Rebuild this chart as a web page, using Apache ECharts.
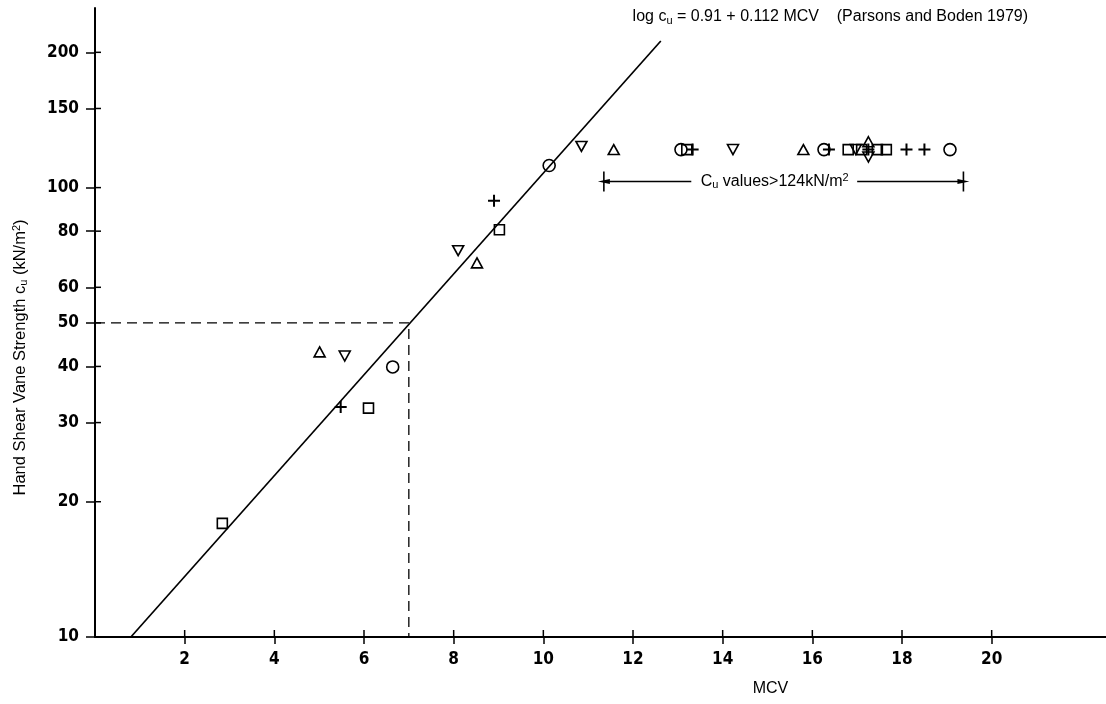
<!DOCTYPE html>
<html>
<head>
<meta charset="utf-8">
<script src="https://cdn.jsdelivr.net/npm/echarts@6/dist/echarts.min.js"></script>
<style>
html,body{margin:0;padding:0;background:#fff;}
#chart{width:1106px;height:704px;}
</style>
</head>
<body>
<div id="chart"></div>
<script>
// ---- data (MCV, cu in kN/m2) ----
const xTicks = [2, 4, 6, 8, 10, 12, 14, 16, 18, 20];
const yTicks = [10, 20, 30, 40, 50, 60, 80, 100, 150, 200];

const squares   = [[2.84, 17.9], [6.1, 32.3], [9.02, 80.6], [13.2, 121.5], [16.8, 121.5], [17.1, 121.5], [17.45, 121.5], [17.65, 121.5]];
const circles   = [[6.64, 39.9], [10.13, 112], [13.07, 121.5], [16.26, 121.5], [19.07, 121.5]];
const triUp     = [[5.01, 43.1], [8.52, 68], [11.57, 121.5], [15.8, 121.5], [17.25, 126.5]];
const triDown   = [[5.57, 42.2], [8.1, 72.4], [10.85, 123.5], [14.23, 121.5], [16.97, 121.5], [17.25, 117]];
const pluses    = [[5.48, 32.5], [8.9, 93.5], [13.33, 121.5], [16.37, 121.5], [17.25, 121.5], [18.1, 121.5], [18.5, 121.5]];

const fitLine   = [[0.8, 10], [12.62, 212]];
const guideLine = [[0, 50], [7, 50], [7, 10]];

// annotation: range of MCV with cu > 124
const rangeMCV  = [11.35, 19.37];
const gapMCV    = [13.3, 17.0];
const rangeCu   = 103.2;
const barCu     = [98, 108.6];
const rangeLabelMCV = 15.16;

// ---- helpers ----
const X_MIN = 0, X_MAX = 22.55, Y_MIN = 10, Y_MAX = 251;
const L = v => Math.log10(v);
const tr = arr => arr.map(p => [p[0], L(p[1])]);

const tickFont = {fontFamily: "'DejaVu Sans Condensed','Liberation Sans Narrow',sans-serif", fontWeight: 'bold', fontSize: 17, color: '#000'};
const textFont = "'Liberation Sans', Arial, sans-serif";

const hollow = {color: 'rgba(0,0,0,0)', borderColor: '#000', borderWidth: 1.6, opacity: 1};
const plusPath = 'path://M5,0H7V5H12V7H7V12H5V7H0V5H5Z';

// inner half of the crossing tick marks, placed through the axis scales
function innerTick(dir) {
  return function (params, api) {
    const p = api.coord([api.value(0), api.value(1)]);
    const end = dir === 'x' ? [p[0], p[1] - 7] : [p[0] + 6, p[1]];
    return {type: 'line', shape: {x1: p[0], y1: p[1], x2: end[0], y2: end[1]},
            style: {stroke: '#000', lineWidth: 1.5}};
  };
}

const chart = echarts.init(document.getElementById('chart'), null, {renderer: 'canvas'});

const option = {
  animation: false,
  backgroundColor: '#fff',
  grid: {left: 95, right: 0, top: 8, bottom: 67, outerBoundsMode: 'none'},
  xAxis: {
    type: 'value', min: X_MIN, max: X_MAX, position: 'bottom',
    name: 'MCV', nameLocation: 'middle', nameGap: 44,
    nameTextStyle: {fontFamily: textFont, fontSize: 16, color: '#000', padding: [0, 0, 0, 340]},
    axisLine: {show: true, onZero: false, lineStyle: {color: '#000', width: 2}},
    axisTick: {show: true, customValues: xTicks, length: 7, lineStyle: {color: '#000', width: 1.5}},
    axisLabel: Object.assign({customValues: xTicks, margin: 14}, tickFont),
    splitLine: {show: false}
  },
  yAxis: {
    type: 'value', min: L(Y_MIN), max: L(Y_MAX), position: 'left',
    name: 'Hand Shear Vane Strength c{sub|u} (kN/m{sup|2})',
    nameLocation: 'middle', nameGap: 66,
    nameTextStyle: {
      fontFamily: textFont, fontSize: 16.5, color: '#000', padding: [0, 70, 0, 0],
      rich: {sub: {fontFamily: textFont, fontSize: 11, color: '#000', padding: [7, 0, 0, 0]},
             sup: {fontFamily: textFont, fontSize: 11, color: '#000', padding: [0, 0, 7, 0]}}
    },
    axisLine: {show: true, onZero: false, lineStyle: {color: '#000', width: 2}},
    axisTick: {show: true, customValues: yTicks.map(L), length: 9, lineStyle: {color: '#000', width: 1.5}},
    axisLabel: Object.assign({customValues: yTicks.map(L), margin: 16,
      formatter: v => String(Math.round(Math.pow(10, v)))}, tickFont),
    splitLine: {show: false}
  },
  graphic: [{
    type: 'text', right: 78, top: 9, z: 100,
    style: {
      text: 'log c{sub|u} = 0.91 + 0.112 MCV    (Parsons and Boden 1979)',
      font: '16px ' + textFont, fill: '#000',
      rich: {sub: {font: '11px ' + textFont, fill: '#000', padding: [8, 0, 0, 0]}}
    }
  }],
  series: [
    {type: 'custom', data: xTicks.map(v => [v, L(Y_MIN)]), renderItem: innerTick('x'), clip: false, silent: true, z: 3},
    {type: 'custom', data: yTicks.map(v => [X_MIN, L(v)]), renderItem: innerTick('y'), clip: false, silent: true, z: 3},
    {type: 'line', data: tr(fitLine), showSymbol: false, symbol: 'none',
     lineStyle: {color: '#000', width: 1.7}, z: 2, silent: true},
    {type: 'line', data: tr(guideLine), showSymbol: false, symbol: 'none',
     lineStyle: {color: '#000', width: 1.3, type: [10, 6]}, z: 2, silent: true},
    // range annotation
    {type: 'line', data: [[rangeMCV[0], L(barCu[0])], [rangeMCV[0], L(barCu[1])]], symbol: 'none',
     lineStyle: {color: '#000', width: 1.6}, silent: true},
    {type: 'line', data: [[rangeMCV[1], L(barCu[0])], [rangeMCV[1], L(barCu[1])]], symbol: 'none',
     lineStyle: {color: '#000', width: 1.6}, silent: true},
    {type: 'line', data: [], symbol: 'none', silent: true,
     markLine: {
       silent: true, animation: false, symbol: ['triangle', 'none'], symbolSize: [5, 12],
       label: {show: false},
       lineStyle: {color: '#000', width: 1.3, type: 'solid', opacity: 1},
       itemStyle: {color: '#000'},
       data: [
         [{coord: [rangeMCV[0], L(rangeCu)], symbol: 'triangle'}, {coord: [gapMCV[0], L(rangeCu)], symbol: 'none'}],
         [{coord: [gapMCV[1], L(rangeCu)], symbol: 'none'}, {coord: [rangeMCV[1], L(rangeCu)], symbol: 'triangle'}]
       ]
     }},
    {type: 'scatter', data: [[rangeLabelMCV, L(rangeCu)]], symbolSize: 0, itemStyle: {color: '#000', opacity: 1}, silent: true,
     label: {show: true, position: 'inside', formatter: 'C{sub|u} values>124kN/m{sup|2}',
       fontFamily: textFont, fontSize: 16, color: '#000', opacity: 1, textBorderWidth: 0,
       rich: {sub: {fontFamily: textFont, fontSize: 11, color: '#000', padding: [7, 0, 0, 0]},
              sup: {fontFamily: textFont, fontSize: 11, color: '#000', padding: [0, 0, 7, 0]}}}},
    // data points
    {name: 'square', type: 'scatter', data: tr(squares), symbol: 'rect', symbolSize: 10, itemStyle: hollow, z: 5},
    {name: 'circle', type: 'scatter', data: tr(circles), symbol: 'circle', symbolSize: 12, itemStyle: hollow, z: 5},
    {name: 'triUp', type: 'scatter', data: tr(triUp), symbol: 'triangle', symbolSize: [11, 10], itemStyle: hollow, z: 5},
    {name: 'triDown', type: 'scatter', data: tr(triDown), symbol: 'triangle', symbolRotate: 180, symbolSize: [11, 10], itemStyle: hollow, z: 5},
    {name: 'plus', type: 'scatter', data: tr(pluses), symbol: plusPath, symbolSize: 12, itemStyle: {color: '#000', opacity: 1}, z: 5}
  ]
};
chart.setOption(option);
</script>
</body>
</html>
